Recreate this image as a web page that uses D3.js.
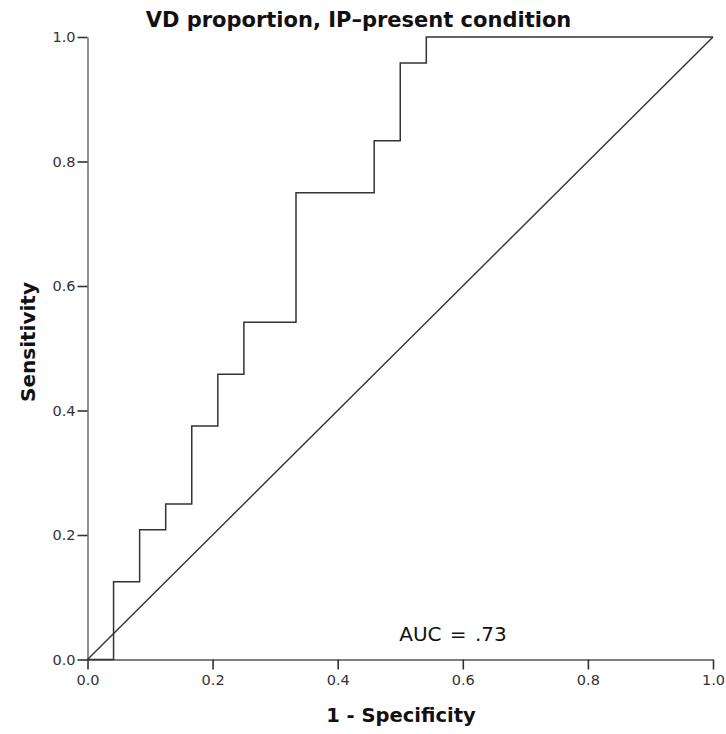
<!DOCTYPE html>
<html><head><meta charset="utf-8">
<script src="https://cdn.jsdelivr.net/npm/d3@7"></script>
<style>body{margin:0;background:#fff}svg{display:block}</style>
</head><body>
<script>
const fpr = [0, 1/24, 1/24, 2/24, 2/24, 3/24, 3/24, 4/24, 4/24, 5/24, 5/24, 6/24, 6/24, 8/24, 8/24, 11/24, 11/24, 12/24, 12/24, 13/24, 13/24, 1];
const tpr = [0, 0, 3/24, 3/24, 5/24, 5/24, 6/24, 6/24, 9/24, 9/24, 11/24, 11/24, 13/24, 13/24, 18/24, 18/24, 20/24, 20/24, 23/24, 23/24, 1, 1];
const refX = [0, 1];
const refY = [0, 1];
const ticks = [0, 0.2, 0.4, 0.6, 0.8, 1.0];
const title = "VD proportion, IP\u2013present condition";
const xTitle = "1 - Specificity";
const yTitle = "Sensitivity";
const aucLabel = "AUC = .73";

const W = 726, H = 734;
const svg = d3.select("body").append("svg").attr("width", W).attr("height", H);
const x = d3.scaleLinear().domain([0, 1]).range([87.5, 713]);
const y = d3.scaleLinear().domain([0, 1]).range([659.5, 37]);
const font = "'DejaVu Sans', sans-serif";

const xa = svg.append("g").attr("transform", `translate(0,${y(0)})`)
  .call(d3.axisBottom(x).tickValues(ticks).tickFormat(d3.format(".1f")).tickSizeInner(10).tickSizeOuter(0).tickPadding(5));
const ya = svg.append("g").attr("transform", `translate(${x(0)},0)`)
  .call(d3.axisLeft(y).tickValues(ticks).tickFormat(d3.format(".1f")).tickSizeInner(10).tickSizeOuter(0).tickPadding(2));
[xa, ya].forEach(a => {
  a.select(".domain").attr("stroke", "#555").attr("stroke-width", 1.3);
  a.selectAll(".tick line").attr("stroke", "#333").attr("stroke-width", 1.6);
  a.selectAll("text").attr("font-family", font).attr("font-size", 14.5).attr("fill", "#333");
});

const pts = fpr.map((f, i) => [f, tpr[i]]);
const line = d3.line().x(d => x(d[0])).y(d => y(d[1]));
svg.append("path").datum(refX.map((v, i) => [v, refY[i]])).attr("d", line)
  .attr("fill", "none").attr("stroke", "#333").attr("stroke-width", 1.4);
svg.append("path").datum(pts).attr("d", line)
  .attr("fill", "none").attr("stroke", "#333").attr("stroke-width", 1.5);

svg.append("text").attr("x", 358.5).attr("y", 27).attr("text-anchor", "middle")
  .attr("font-family", font).attr("font-weight", "bold").attr("font-size", 21).attr("fill", "#111").text(title);
svg.append("text").attr("x", 401).attr("y", 722).attr("text-anchor", "middle")
  .attr("font-family", font).attr("font-weight", "bold").attr("font-size", 19.5).attr("fill", "#111").text(xTitle);
svg.append("text").attr("transform", "translate(35,342) rotate(-90)").attr("text-anchor", "middle")
  .attr("font-family", font).attr("font-weight", "bold").attr("font-size", 20).attr("fill", "#111").text(yTitle);
svg.append("text").attr("x", 453).attr("y", 641).attr("text-anchor", "middle")
  .attr("font-family", font).attr("font-size", 20).attr("fill", "#111").attr("word-spacing", 2).text(aucLabel);
</script>
</body></html>
